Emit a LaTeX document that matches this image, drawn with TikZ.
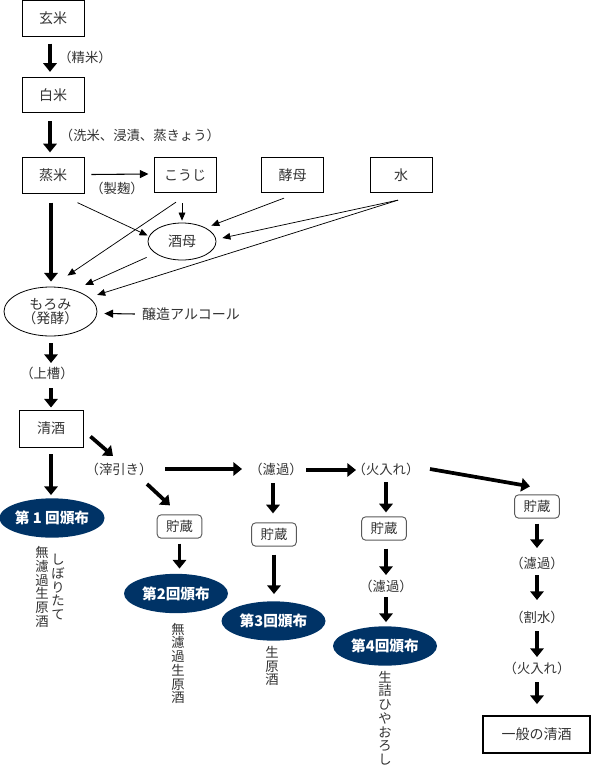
\documentclass[tikz,border=0pt]{standalone}
\usepackage{fontspec}
\setmainfont{Noto Sans CJK JP}
\usetikzlibrary{arrows.meta,calc,shapes.geometric}
\definecolor{navy}{RGB}{0,51,102}
\definecolor{txt}{RGB}{51,51,51}
\begin{document}
\begin{tikzpicture}[x=0.75pt,y=-0.75pt,
  box/.style={draw=black, line width=0.7pt, minimum width=46.5pt, minimum height=26.5pt, inner sep=0pt, font=\fontsize{10.5}{12}\selectfont, text=txt},
  lbl/.style={inner sep=0pt, font=\fontsize{10}{12}\selectfont, text=txt},
  stor/.style={draw=black!65, rounded corners=3pt, line width=0.7pt, minimum width=33.5pt, minimum height=17.5pt, inner sep=0pt, font=\fontsize{10}{12}\selectfont, text=txt},
  dist/.style={ellipse, fill=navy, minimum width=78pt, minimum height=29.5pt, inner sep=0pt, text=white, font=\bfseries\fontsize{11}{12}\selectfont},
  oval/.style={ellipse, draw=black, line width=0.6pt, inner sep=0pt, font=\fontsize{10.5}{11}\selectfont, text=txt, align=center},
  vtext/.style={align=center, inner sep=0pt, font=\fontsize{10}{10.3}\selectfont, text=txt},
  big/.style={-{Triangle[width=10pt,length=6.5pt]}, line width=2.8pt},
  thin/.style={-{Triangle[width=5pt,length=6pt]}, line width=0.55pt},
  mid/.style={-{Triangle[width=6pt,length=6.5pt]}, line width=0.8pt},
]
\useasboundingbox (0,0) rectangle (592,768);

% top boxes
\node[box] (genmai) at (53,18.5) {玄米};
\node[box] (hakumai) at (53,95) {白米};
\node[box] (mushimai) at (53,175.5) {蒸米};
\node[box] (kouji) at (185,175) {こうじ};
\node[box] (koubo) at (292.5,175) {酵母};
\node[box] (mizu) at (401,175) {水};
\node[oval, minimum width=51pt, minimum height=27.75pt] (shubo) at (182,241.5) {酒母};
\node[oval, minimum width=69.75pt, minimum height=36.75pt] (moromi) at (50.5,311.5) {もろみ\\[-0.5pt]（発酵）};

\node[lbl] (seimai) at (85,57) {（精米）};
\node[lbl] (senmai) at (140,135) {（洗米、浸漬、蒸きょう）};
\node[lbl] (seikiku) at (117,188) {（製麹）};
\node[lbl, font=\fontsize{10.5}{12}\selectfont] (alc) at (191,314) {醸造アルコール};
\node[lbl] (jouso) at (47,373) {（上槽）};
\node[box, minimum width=48pt, minimum height=27.75pt] (seishu) at (51,428.5) {清酒};

% distribution rows
\node[dist] (dai1) at (52,518) {第 1 回頒布};
\node[lbl] (oribiki) at (119,469) {（滓引き）};
\node[lbl] (roka3) at (276,469) {（濾過）};
\node[lbl] (hiire4) at (386,469) {（火入れ）};
\node[stor] (c2) at (179.5,526.5) {貯蔵};
\node[dist] (dai2) at (176,593.5) {第2回頒布};
\node[stor] (c3) at (274,534.5) {貯蔵};
\node[dist] (dai3) at (273.5,621) {第3回頒布};
\node[stor] (c4) at (384,528.5) {貯蔵};
\node[lbl] (roka4) at (386,586) {（濾過）};
\node[dist] (dai4) at (385,646) {第4回頒布};
\node[stor] (c5) at (537,506.5) {貯蔵};
\node[lbl] (roka5) at (537,563) {（濾過）};
\node[lbl] (warimizu) at (537,617) {（割水）};
\node[lbl] (hiire5) at (537,668) {（火入れ）};
\node[box, line width=1.4pt, minimum width=80pt, minimum height=27.75pt] (ippan) at (536.5,734.5) {一般の清酒};

% vertical texts
\node[vtext] (v1a) at (42,587) {無\\濾\\過\\生\\原\\酒};
\node[vtext] (v1b) at (58,587) {し\\ぼ\\り\\た\\て};
\node[vtext] (v2) at (178,663.5) {無\\濾\\過\\生\\原\\酒};
\node[vtext] (v3) at (272,666) {生\\原\\酒};
\node[vtext] (v4) at (385,718) {生\\詰\\ひ\\や\\お\\ろ\\し};

% top flow
\draw[big] ($(genmai.south)+(-3,7)$) -- ($(hakumai.north)+(-3,-5)$);
\draw[big] ($(hakumai.south)+(-3,8)$) -- ($(mushimai.north)+(-3,-5)$);
\draw[mid] ($(mushimai.east)+(7,-1)$) -- ($(kouji.west)+(-5,-1)$);
\draw[big] ($(mushimai.south)+(-2,9)$) -- ($(moromi.north)+(0.5,-5)$);
\draw[thin] ($(mushimai.south east)+(-7,9)$) -- ($(shubo.west)+(0,-6)$);
\draw[thin] ($(kouji.south)+(-9,9)$) -- ($(moromi.north)+(17,-11)$);
\draw[thin] ($(kouji.south)+(-3,10)$) -- ($(shubo.north)+(0,-2)$);
\draw[thin] ($(koubo.south)+(-8.5,5)$) -- ($(shubo.north east)+(5,-2.5)$);
\draw[thin] ($(mizu.south)+(-3,7)$) -- ($(shubo.east)+(6,-3.5)$);
\draw[thin] ($(mizu.south)+(-3,7)$) -- ($(moromi.north east)+(13.5,1)$);
\draw[thin] ($(shubo.south west)+(-11,2.5)$) -- ($(moromi.north east)+(1.5,-9)$);
\draw[mid] ($(alc.west)+(-7,0)$) -- ($(moromi.east)+(7,2)$);

% lower flow
\draw[big] ($(moromi.south)+(0.5,7)$) -- ($(jouso)+(4,-10)$);
\draw[big] ($(jouso)+(4,15)$) -- ($(seishu.north)+(0,-2)$);
\draw[big] ($(seishu.south)+(0,7)$) -- ($(dai1.north)+(-1,-3)$);
\draw[big] ($(seishu.south east)+(7,-11)$) -- ($(oribiki)+(-6,-13)$);
\draw[big] ($(oribiki)+(28,15)$) -- ($(c2.north)+(-9.5,-9)$);
\draw[big] ($(c2.south)+(0,5)$) -- ($(dai2.north)+(3.5,-5)$);
\draw[big] ($(oribiki)+(46,0)$) -- ($(roka3)+(-34,0)$);
\draw[big] ($(roka3)+(30,1)$) -- ($(hiire4)+(-30,1)$);
\draw[big] ($(roka3)+(-3,14)$) -- ($(c3.north)+(-1,-9)$);
\draw[big] ($(c3.south)+(0,8)$) -- ($(dai3.north)+(0.5,-7)$);
\draw[big] ($(hiire4)+(0,13)$) -- ($(c4.north)+(2,-4)$);
\draw[big] ($(c4.south)+(2,8)$) -- ($(roka4)+(0,-11)$);
\draw[big] ($(roka4)+(0,11)$) -- ($(dai4.north)+(1,-4)$);
\draw[big] ($(hiire4)+(44,0)$) -- ($(c5.north)+(-7,-8)$);
\draw[big] ($(c5.south)+(0,5)$) -- ($(roka5)+(0,-15)$);
\draw[big] ($(roka5)+(0,12)$) -- ($(warimizu)+(0,-17)$);
\draw[big] ($(warimizu)+(0,14)$) -- ($(hiire5)+(0,-11)$);
\draw[big] ($(hiire5)+(0,14)$) -- ($(ippan.north)+(0.5,-11)$);
\end{tikzpicture}
\end{document}
